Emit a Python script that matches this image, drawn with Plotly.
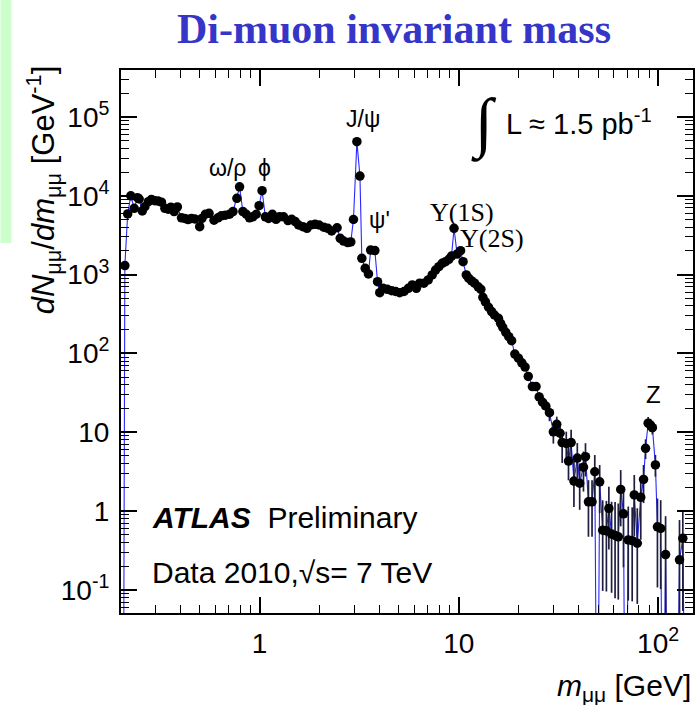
import plotly.graph_objects as go
import numpy as np

# ---------------- data ----------------
# low / intermediate mass region (error bars hidden by markers); 0 = empty bin
mass_main = [0.207, 0.211, 0.218, 0.226, 0.235, 0.244, 0.249, 0.258, 0.266, 0.277,
             0.287, 0.298, 0.310, 0.322, 0.335, 0.348, 0.359, 0.373, 0.387, 0.406,
             0.422, 0.438, 0.455, 0.473, 0.501, 0.514, 0.535, 0.558, 0.591, 0.619,
             0.643, 0.674, 0.708, 0.736, 0.770, 0.794, 0.825, 0.858, 0.891, 0.926,
             0.962, 0.995, 1.03, 1.07, 1.11, 1.16, 1.21, 1.26, 1.32, 1.39,
             1.45, 1.51, 1.57, 1.65, 1.73, 1.81, 1.90, 1.99, 2.10, 2.20,
             2.30, 2.45, 2.54, 2.64, 2.77, 2.87, 2.96, 3.08, 3.19, 3.26,
             3.39, 3.52, 3.61, 3.79, 3.91, 4.01, 4.17, 4.38, 4.60, 4.82,
             5.05, 5.31, 5.58, 5.84, 6.12, 6.36, 6.68, 7.02, 7.35, 7.64,
             7.94, 8.25, 8.58, 8.91, 9.19, 9.46, 9.80, 10.2, 10.5, 10.9,
             11.2, 11.6, 12.0, 12.5, 12.9, 13.2, 13.6, 14.1, 14.6, 15.1,
             15.8, 16.2, 16.6, 17.2, 17.8, 18.4, 19.1, 19.9]
dndm_main = [0, 1300, 5880, 10000, 6940, 9460, 9100, 6420, 7280, 8410,
             9000, 8660, 8580, 8290, 6940, 6760, 7160, 6300, 7220, 5250,
             5160, 4990, 5160, 5080, 4050, 5160, 5830, 5990, 4900, 5250,
             5560, 5670, 5830, 6300, 9280, 13000, 6300, 5830, 5250, 5400,
             5830, 7500, 11600, 5400, 5160, 5830, 5030, 5400, 5400, 4840,
             5030, 4700, 4260, 4050, 3860, 4260, 4340, 4260, 3990, 3860,
             3580, 3930, 2890, 2660, 2550, 2600, 5000, 48600, 17800, 1610,
             1200, 1020, 2050, 2020, 813, 590, 670, 650, 625, 610,
             590, 610, 670, 740, 670, 777, 777, 855, 990, 1140,
             1260, 1390, 1460, 1560, 1720, 3870, 1820, 2010, 1460, 990,
             900, 830, 777, 700, 650, 515, 450, 385, 339, 307,
             279, 241, 214, 185, 163, 145, 98, 87]

# high mass tail with visible error bars (relative up / down errors)
mass_tail = [20.7, 21.5, 22.3, 23.4, 24.4, 25.3, 26.3, 27.3, 28.5, 29.8,
             31.0, 32.2, 33.0, 34.6, 35.5, 36.6, 37.8, 39.3, 40.4, 42.2,
             43.2, 44.7, 46.6, 48.1, 49.5, 50.9, 52.7, 55.0, 56.6, 58.4,
             60.8, 63.1, 64.9, 67.0, 68.6, 70.8, 74.1, 75.9, 78.6, 81.8,
             84.5, 86.5, 89.1, 91.5, 93.6, 96.9, 99.2, 103, 106, 109,
             113, 118, 123, 128, 133, 138, 143, 148]
dndm_tail = [76, 67, 51, 38, 38, 28, 24, 21.5, 17.7, 10.1,
             12.6, 9.7, 7.4, 7.2, 4.3, 7.4, 2.4, 4.7, 2.25, 3.6,
             4.9, 1.31, 1.31, 3.15, 0, 2.35, 0.57, 0.56, 1.08, 0.51,
             0.49, 0.47, 1.88, 0.92, 0, 0.43, 0.42, 1.6, 0.39, 1.49,
             2.52, 6.25, 13.0, 12.3, 11.4, 3.84, 0.63, 0.60, 0, 0.28,
             0, 0, 0, 0.24, 0.45, 0, 0, 0]
rel_up_tail = [0.08, 0.08, 0.10, 0.12, 0.12, 0.15, 0.18, 0.20, 0.22, 0.28,
               0.25, 0.28, 0.45, 0.41, 0.60, 0.45, 0.83, 0.55, 0.79, 0.58,
               0.48, 0.88, 0.88, 0.63, 0, 0.63, 1.40, 1.40, 0.88, 1.57,
               1.65, 1.65, 0.76, 1.02, 0, 1.65, 1.65, 0.79, 1.78, 0.83,
               0.52, 0.30, 0.20, 0.20, 0.20, 0.34, 1.29, 1.29, 0, 2.07,
               0, 0, 0, 2.20, 1.29, 0, 0, 0]
rel_dn_tail = [0.08, 0.08, 0.10, 0.12, 0.12, 0.15, 0.18, 0.20, 0.22, 0.29,
               0.27, 0.29, 0.45, 0.39, 0.43, 0.43, 0.53, 0.44, 0.54, 0.51,
               0.44, 0.64, 0.64, 0.56, 0, 0.60, 0.83, 0.83, 0.70, 0.82,
               0.84, 0.84, 0.66, 0.79, 0, 0.83, 0.83, 0.70, 0.83, 0.71,
               0.50, 0.27, 0.18, 0.18, 0.18, 0.29, 0.83, 0.83, 0, 0.95,
               0, 0, 0, 0.95, 0.88, 0, 0, 0]

y_tickvals = [0.1, 1, 10, 100, 1e3, 1e4, 1e5]
y_ticktext = ["10<sup>-1</sup>", "1", "10", "10<sup>2</sup>", "10<sup>3</sup>",
              "10<sup>4</sup>", "10<sup>5</sup>"]
x_tickvals = [1, 10, 100]
x_ticktext = ["1", "10", "10<sup>2</sup>"]

# ---------------- build ----------------
mass = np.array(mass_main + mass_tail, dtype=float)
dndm = np.array(dndm_main + dndm_tail, dtype=float)
rel_up = np.array([0.0] * len(mass_main) + rel_up_tail)
rel_dn = np.array([0.0] * len(mass_main) + rel_dn_tail)

line_y = np.where(dndm > 0, dndm, 1e-4)          # empty bins: line drops out of frame
has = dndm > 0

W, H = 698, 705
L, R, T, B = 121, 695, 70, 613
def px(x):
    return (x - L) / (R - L)
def py(y):
    return (B - y) / (B - T)

SANS = "Liberation Sans, Arial, Helvetica, sans-serif"
SERIF = "Liberation Serif, Times New Roman, serif"

fig = go.Figure()
fig.add_trace(go.Scatter(x=mass, y=line_y, mode="lines",
                         line=dict(color="rgb(40,40,255)", width=1.1),
                         hoverinfo="skip", showlegend=False))
fig.add_trace(go.Scatter(x=mass[has], y=dndm[has], mode="markers",
                         marker=dict(color="black", size=9.5),
                         error_y=dict(type="data", symmetric=False,
                                      array=(dndm * rel_up)[has],
                                      arrayminus=(dndm * rel_dn)[has],
                                      color="#1e1e40", thickness=1.7, width=0),
                         showlegend=False))

def minor_vals(lo, hi):
    out = []
    for d in range(lo, hi + 1):
        for k in range(2, 10):
            out.append(k * 10.0 ** d)
    return out

axis_common = dict(type="log", showgrid=False, zeroline=False, showline=True,
                   linecolor="black", linewidth=2, mirror="allticks",
                   ticks="inside", ticklen=16, tickwidth=1.5, tickcolor="black",
                   tickfont=dict(family=SANS, size=28, color="black"))

fig.update_xaxes(**axis_common, range=[np.log10(0.2018), np.log10(149.6)],
                 tickmode="array", tickvals=x_tickvals, ticktext=x_ticktext,
                 ticklabelstandoff=4,
                 minor=dict(ticks="inside", ticklen=8, tickwidth=1.2,
                            tickcolor="black", tickvals=minor_vals(-1, 2)))
fig.update_yaxes(**axis_common, range=[-1.294, 5.596],
                 tickmode="array", tickvals=y_tickvals, ticktext=y_ticktext,
                 ticklabelstandoff=4,
                 minor=dict(ticks="inside", ticklen=8, tickwidth=1.2,
                            tickcolor="black", tickvals=minor_vals(-2, 5)))

ann = []
def add(text, x, y, size, family=SANS, xanchor="center", yanchor="middle",
        color="black", angle=0):
    ann.append(dict(text=text, x=px(x), y=py(y), xref="paper", yref="paper",
                    xanchor=xanchor, yanchor=yanchor, showarrow=False,
                    textangle=angle, font=dict(family=family, size=size, color=color)))

add("<b>Di-muon invariant mass</b>", 395, 29, 42, family=SERIF, color="#3535c8")
add("<i>dN</i><sub>μμ</sub>/<i>dm</i><sub>μμ</sub> [GeV<sup>-1</sup>]", 43, 190, 31, angle=-90)
add("<i>m</i><sub>μμ</sub> [GeV]", 695, 687, 30, xanchor="right")
add("<b><i>ATLAS</i></b>  Preliminary", 150, 517, 30, xanchor="left")
add("Data 2010,√s= 7 TeV", 150, 572, 30, xanchor="left")
add("∫", 485, 124, 66, family=SERIF)
add("L ≈ 1.5 pb<sup>-1</sup>", 505, 122, 29, xanchor="left")
add("ω/ρ", 228, 168, 23)
add("ϕ", 265, 168, 23)
add("J/ψ", 364, 119, 23)
add("ψ'", 380, 220, 23)
add("Υ(1S)", 463, 212, 26, family=SERIF)
add("Υ(2S)", 493, 238, 26, family=SERIF)
add("Z", 655, 394, 24)

fig.update_layout(
    width=W, height=H, autosize=False,
    margin=dict(l=L, r=W - R, t=T, b=H - B, pad=0),
    paper_bgcolor="white", plot_bgcolor="white",
    annotations=ann,
    shapes=[dict(type="rect", xref="paper", yref="paper",
                 x0=px(0), x1=px(11), y0=py(243), y1=py(0),
                 fillcolor="#ccffcc", line=dict(width=0), layer="below")],
)

fig.write_html("out.html")
